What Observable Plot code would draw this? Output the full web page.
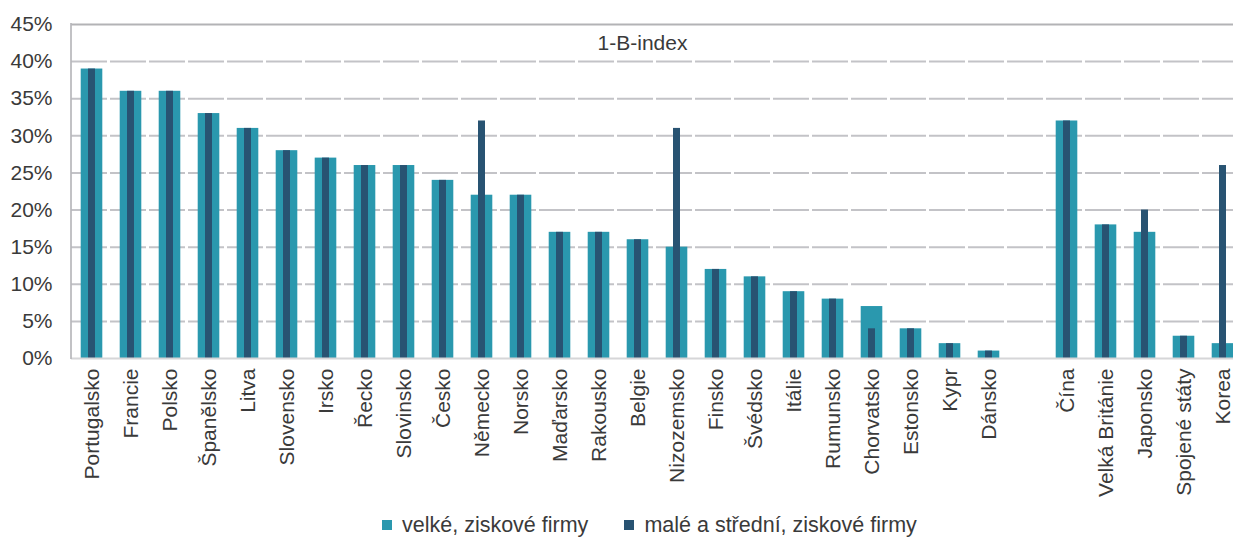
<!DOCTYPE html>
<html lang="cs">
<head>
<meta charset="utf-8">
<script src="https://cdn.jsdelivr.net/npm/d3@7"></script>
<script src="https://cdn.jsdelivr.net/npm/@observablehq/plot@0.6"></script>
<style>
  html, body { margin: 0; padding: 0; background: #fff; overflow: hidden; }
  body { font-family: "Liberation Sans", Arial, sans-serif; color: #3a3a3a; }
  #legend { display: flex; align-items: center; padding-left: 382px; padding-top: 1px; font-size: 21.5px; line-height: 24px; height: 24px; }
  .item { display: flex; align-items: center; }
  .sw { width: 10px; height: 10px; display: inline-block; margin-right: 10px; }
</style>
</head>
<body>
<div id="chart"></div>
<div id="legend"></div>
<script>
// ---- data ----
const euCountries = ["Portugalsko","Francie","Polsko","Španělsko","Litva","Slovensko","Irsko","Řecko","Slovinsko","Česko","Německo","Norsko","Maďarsko","Rakousko","Belgie","Nizozemsko","Finsko","Švédsko","Itálie","Rumunsko","Chorvatsko","Estonsko","Kypr","Dánsko"];
const euLarge = [39,36,36,33,31,28,27,26,26,24,22,22,17,17,16,15,12,11,9,8,7,4,2,1];
const euSme   = [39,36,36,33,31,28,27,26,26,24,32,22,17,17,16,31,12,11,9,8,4,4,2,1];
const otherCountries = ["Čína","Velká Británie","Japonsko","Spojené státy","Korea"];
const otherLarge = [32,18,17,3,2];
const otherSme   = [32,18,20,3,26];
const yTicks = [0,5,10,15,20,25,30,35,40,45];
const seriesNames = ["velké, ziskové firmy","malé a střední, ziskové firmy"];
const seriesColors = ["#2a98ae","#285372"];
const title = "1-B-index";

const GAP = "__gap__";
const domain = [...euCountries, GAP, ...otherCountries];
const rows = [
  ...euCountries.map((c,i) => ({country: c, large: euLarge[i], sme: euSme[i]})),
  ...otherCountries.map((c,i) => ({country: c, large: otherLarge[i], sme: otherSme[i]}))
];

const W = 1233, H = 512;
const chart = Plot.plot({
  width: W,
  height: H,
  marginLeft: 71,
  marginRight: 0,
  marginTop: 24,
  marginBottom: 154,
  style: {fontFamily: '"Liberation Sans", Arial, sans-serif', fontSize: "21px", color: "#3a3a3a", background: "#fff"},
  x: {type: "band", domain, range: [69.4, 1244.5], padding: 0},
  y: {domain: [0, 45], ticks: yTicks},
  marks: [
    Plot.gridY(yTicks.filter(t => t > 0 && t < 45), {stroke: "#c3c3c7", strokeOpacity: 1, strokeWidth: 2, strokeDasharray: "36,3"}),
    Plot.ruleY([45], {stroke: "#b3b3b6", strokeWidth: 2}),
    Plot.barY(rows, {x: "country", y: "large", fill: seriesColors[0], insetLeft: 8.7, insetRight: 8.7}),
    Plot.barY(rows, {x: "country", y: "sme", fill: seriesColors[1], insetLeft: 16, insetRight: 16}),
    Plot.ruleY([0], {stroke: "#d6d6d8", strokeWidth: 2}),
    (index, scales, values, dimensions) => {
      const l = document.createElementNS("http://www.w3.org/2000/svg", "line");
      const x = dimensions.marginLeft;
      l.setAttribute("x1", x); l.setAttribute("x2", x);
      l.setAttribute("y1", dimensions.marginTop - 1);
      l.setAttribute("y2", dimensions.height - dimensions.marginBottom + 1);
      l.setAttribute("stroke", "#b8b8bb");
      l.setAttribute("stroke-width", 1.7);
      return l;
    },
    Plot.axisY({ticks: yTicks, tickSize: 0, tickPadding: 19, tickFormat: d => d + "%", fontSize: 21, fill: "#3a3a3a", label: null}),
    Plot.axisX({tickSize: 0, tickPadding: 10, tickRotate: -90, fontSize: 21, fill: "#3a3a3a", label: null, tickFormat: d => d === GAP ? "" : d}),
    Plot.text([title], {text: d => d, frameAnchor: "top", dx: -10, dy: 19, lineAnchor: "middle", fontSize: 21, fill: "#3a3a3a"})
  ]
});
document.getElementById("chart").appendChild(chart);

const legend = document.getElementById("legend");
seriesNames.forEach((name, i) => {
  const item = document.createElement("span");
  item.className = "item";
  if (i > 0) item.style.marginLeft = "36px";
  const sw = document.createElement("span");
  sw.className = "sw";
  sw.style.background = seriesColors[i];
  item.appendChild(sw);
  item.appendChild(document.createTextNode(name));
  legend.appendChild(item);
});
</script>
</body>
</html>
